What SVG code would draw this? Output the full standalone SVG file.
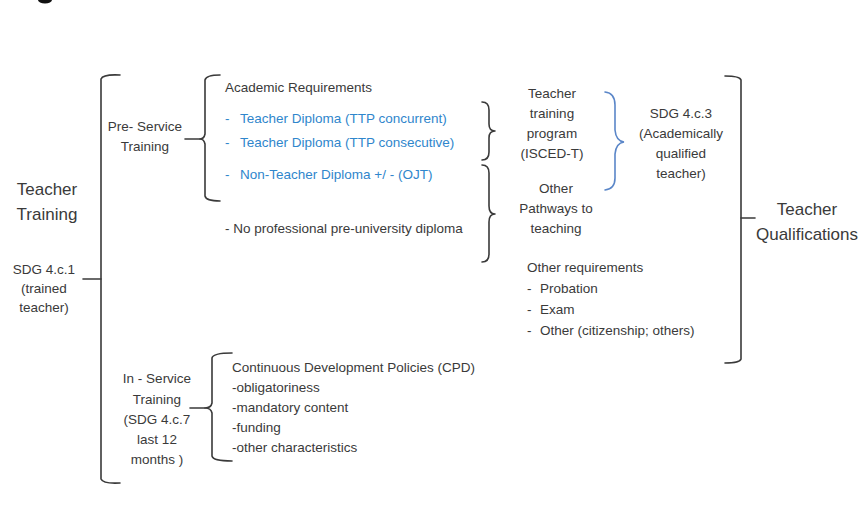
<svg xmlns="http://www.w3.org/2000/svg" width="864" height="522" viewBox="0 0 864 522">
<style>
text{font-family:"Liberation Sans",Arial,sans-serif;font-size:13.5px;fill:#3a3a3a}
.big{font-size:17px}
.c{text-anchor:middle}
.blue{fill:#2f86cc}
.br{fill:none;stroke:#3a3a3a;stroke-width:1.6;stroke-linecap:round;stroke-linejoin:round}
.bb{fill:none;stroke:#5a86c8;stroke-width:1.6;stroke-linecap:round}
</style>
<rect width="864" height="522" fill="#ffffff"/>
<ellipse cx="45" cy="0" rx="7" ry="3.5" fill="#111"/>
<g id="connectors">
<path class="br" d="M120,75 Q103,74 101,79 L101,479 Q103,484 120,483"/>
<path class="br" d="M83,279 L101,279"/>
<path class="br" d="M220,75 Q206,75 205,80 L205,134 Q204,139 200,139 Q204,139 205,144 L205,196 Q206,201 220,201"/>
<path class="br" d="M185,139 L200,139"/>
<path class="br" d="M482,102 Q489,102 489,110 L489,124 Q489,131 495,131 Q489,131 489,138 L489,152 Q489,160 482,160"/>
<path class="br" d="M482,165 Q489,165 489,173 L489,206 Q489,214 495,214 Q489,214 489,222 L489,254 Q489,262 482,262"/>
<path class="bb" d="M605,92 Q615,93 615,105 L615,130 Q616,141 624,142 Q616,143 615,154 L615,178 Q615,189 605,190"/>
<path class="br" d="M232,353 Q213,353 212,358 L212,403 Q211,408 205,408 Q211,408 212,413 L212,456 Q213,461 232,461"/>
<path class="br" d="M190,408 L205,408"/>
<path class="br" d="M725,76 Q740,76 741,80 L741,359 Q740,363 725,363"/>
<path class="br" d="M741,218 L755,218"/>
</g>
<g id="teacher-training">
<text class="big c" x="47" y="195">Teacher</text>
<text class="big c" x="47" y="220">Training</text>
<text class="c" x="44" y="274">SDG 4.c.1</text>
<text class="c" x="44" y="293">(trained</text>
<text class="c" x="44" y="312">teacher)</text>
</g>
<g id="pre-service">
<text class="c" x="145" y="131">Pre- Service</text>
<text class="c" x="145" y="151">Training</text>
</g>
<g id="academic-requirements">
<text x="225" y="92">Academic Requirements</text>
<text class="blue" x="225" y="123">-</text>
<text class="blue" x="240" y="123">Teacher Diploma (TTP concurrent)</text>
<text class="blue" x="225" y="147">-</text>
<text class="blue" x="240" y="147">Teacher Diploma (TTP consecutive)</text>
<text class="blue" x="225" y="179">-</text>
<text class="blue" x="240" y="179">Non-Teacher Diploma +/ - (OJT)</text>
</g>
<g id="no-professional">
<text x="225" y="233">- No professional pre-university diploma</text>
</g>
<g id="teacher-training-program">
<text class="c" x="552" y="98">Teacher</text>
<text class="c" x="552" y="118">training</text>
<text class="c" x="552" y="138">program</text>
<text class="c" x="552" y="158">(ISCED-T)</text>
</g>
<g id="other-pathways">
<text class="c" x="556" y="193">Other</text>
<text class="c" x="556" y="213">Pathways to</text>
<text class="c" x="556" y="233">teaching</text>
</g>
<g id="sdg-4c3">
<text class="c" x="681" y="118">SDG 4.c.3</text>
<text class="c" x="681" y="138">(Academically</text>
<text class="c" x="681" y="158">qualified</text>
<text class="c" x="681" y="178">teacher)</text>
</g>
<g id="other-requirements">
<text x="527" y="272">Other requirements</text>
<text x="527" y="293">-</text>
<text x="540" y="293">Probation</text>
<text x="527" y="314">-</text>
<text x="540" y="314">Exam</text>
<text x="527" y="335">-</text>
<text x="540" y="335">Other (citizenship; others)</text>
</g>
<g id="teacher-qualifications">
<text class="big c" x="807" y="215">Teacher</text>
<text class="big c" x="807" y="240">Qualifications</text>
</g>
<g id="in-service">
<text class="c" x="157" y="383">In - Service</text>
<text class="c" x="157" y="404">Training</text>
<text class="c" x="157" y="424">(SDG 4.c.7</text>
<text class="c" x="157" y="444">last 12</text>
<text class="c" x="157" y="464">months )</text>
</g>
<g id="cpd">
<text x="232" y="372">Continuous Development Policies (CPD)</text>
<text x="232" y="392">-obligatoriness</text>
<text x="232" y="412">-mandatory content</text>
<text x="232" y="432">-funding</text>
<text x="232" y="452">-other characteristics</text>
</g>
</svg>
